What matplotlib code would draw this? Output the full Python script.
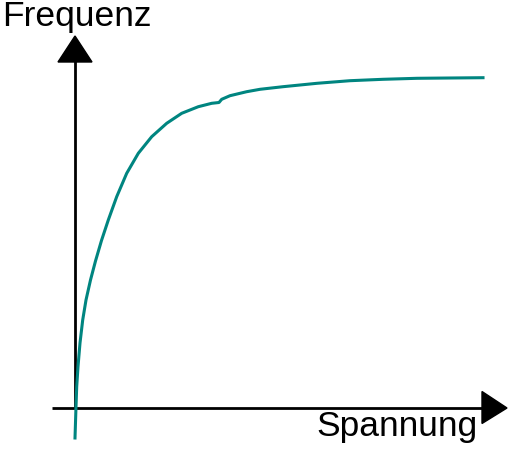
import numpy as np
import matplotlib.pyplot as plt
from matplotlib.patches import Polygon

# Kennlinie: Spannung (x) gegen Frequenz (y), Ursprung = Achsenkreuz
spannung = [0, 1, 1.7, 3, 5, 7.7, 11, 15.5, 20.5, 26.5, 33.3, 41.7, 51.7, 63.3, 76.7,
            91.7, 106.7, 123.3, 136.7, 144, 146.7, 155, 171.7, 185, 208, 242, 275,
            308, 342, 375, 408]
frequenz = [-30, 1.3, 21.3, 41.3, 65, 88, 108, 128, 147, 167.5, 188, 211.3, 234.7, 254.7,
            271.3, 284.7, 294.7, 301.3, 304.7, 305.5, 308.7, 312.3, 316.3, 318.7, 321.3,
            324.7, 327.3, 328.7, 329.7, 330, 330.3]

x_label = "Spannung"
y_label = "Frequenz"

plt.rcParams['font.family'] = ['Liberation Sans', 'DejaVu Sans']
fig = plt.figure(figsize=(5.1, 4.5), dpi=100)
ax = fig.add_axes([0, 0, 1, 1])
ax.set_xlim(-75, 435)
ax.set_ylim(-42, 408)
ax.axis('off')

# Achsen mit Pfeilspitzen
ax.plot([0, 0], [0, 348], color='black', lw=2, solid_capstyle='butt')
ax.plot([-23, 409], [0, 0], color='black', lw=2, solid_capstyle='butt')
ax.add_patch(Polygon([[-17, 346], [17, 346], [0, 372]], closed=True, color='black'))
ax.add_patch(Polygon([[407, 16.5], [407, -15.5], [432, 0]], closed=True, color='black'))

ax.plot(spannung, frequenz, color='#008580', lw=2.2, solid_joinstyle='round')

ax.text(-73, 382, y_label, fontsize=25.5, ha='left', va='baseline')
ax.text(241, -28, x_label, fontsize=25.5, ha='left', va='baseline')

fig.savefig('out.png', dpi=100)
